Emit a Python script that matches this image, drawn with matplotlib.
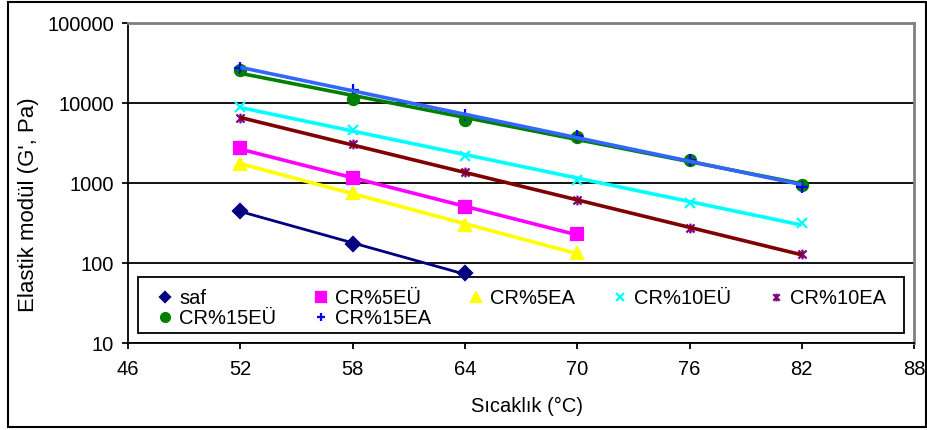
import numpy as np
import matplotlib.pyplot as plt
from matplotlib.path import Path
from matplotlib.patches import Rectangle
from matplotlib.ticker import FixedLocator, FixedFormatter

plt.rcParams['font.family'] = ['Liberation Sans', 'DejaVu Sans']

# veri
sicaklik = [52, 58, 64, 70, 76, 82]
saf = [450, 171, 74]
cr5eu = [2700, 1140, 505, 228]
cr5ea = [1750, 745, 300, 133]
cr10eu = [9000, 4600, 2190, 1090, 567, 319]
cr10ea = [6450, 3050, 1380, 613, 272, 128]
cr15eu = [25800, 11100, 6130, 3800, 1940, 944]
cr15ea = [27000, 14500, 7080, 3870, 1950, 900]

names = ["saf", "CR%5EÜ", "CR%5EA", "CR%10EÜ", "CR%10EA", "CR%15EÜ", "CR%15EA"]
series = [saf, cr5eu, cr5ea, cr10eu, cr10ea, cr15eu, cr15ea]

star = Path([(-1, -1), (1, 1), (-1, 1), (1, -1), (0, -1.2), (0, 1.2)],
            [Path.MOVETO, Path.LINETO, Path.MOVETO, Path.LINETO, Path.MOVETO, Path.LINETO])

marker_list = ["D", "s", "^", "x", star, "o", "+"]
marker_color = ["#000080", "#FF00FF", "#FFFF00", "#00FFFF", "#800080", "#008000", "#0000FF"]
line_color = ["#000080", "#FF00FF", "#FFFF00", "#00FFFF", "#800000", "#008000", "#3366FF"]
msize = [7, 8.5, 9, 7, 7, 8, 8]

fig = plt.figure(figsize=(9.28, 4.30), dpi=100)
ax = fig.add_axes([0.138, 0.2023, 0.847, 0.7442])

handles = []
for i in range(len(series)):
    xs = np.array(sicaklik[:len(series[i])], dtype=float)
    ys = np.array(series[i], dtype=float)
    filled = marker_list[i] in ["D", "s", "^", "o"]
    h, = ax.plot(xs, ys, linestyle="none", marker=marker_list[i], markersize=msize[i],
                 color=marker_color[i], mfc=marker_color[i] if filled else "none",
                 mec=marker_color[i], mew=1.6, zorder=3, label=names[i])
    handles.append(h)
    # ustel egilim cizgisi
    k = np.polyfit(xs, np.log(ys), 1)
    xf = np.linspace(xs[0], xs[-1], 50)
    ax.plot(xf, np.exp(np.polyval(k, xf)), color=line_color[i],
            lw=2.6 if i else 2.0, zorder=4, solid_capstyle="butt")

ax.set_yscale("log")
ax.set_ylim(10, 100000)
ax.set_xlim(46, 88)
ax.xaxis.set_major_locator(FixedLocator([46, 52, 58, 64, 70, 76, 82, 88]))
ax.yaxis.set_major_locator(FixedLocator([10, 100, 1000, 10000, 100000]))
ax.yaxis.set_major_formatter(FixedFormatter(["10", "100", "1000", "10000", "100000"]))
ax.yaxis.set_minor_locator(FixedLocator([]))
ax.grid(axis="y", color="black", lw=1.3)
ax.tick_params(labelsize=14.5, length=4, width=1.3, direction="out", colors="black")
ax.tick_params(axis="x", pad=8)
ax.tick_params(axis="y", pad=6)
for s in ["left", "bottom"]:
    ax.spines[s].set_linewidth(1.3)
for s in ["top", "right"]:
    ax.spines[s].set_color("#808080")
    ax.spines[s].set_linewidth(2)

fig.text(527 / 928, 1 - 406 / 430, "Sıcaklık (°C)", fontsize=14.5, ha="center", va="center")
fig.text(29 / 928, 1 - 205 / 430, "Elastik modül (G', Pa)", fontsize=16,
         rotation=90, ha="center", va="center")

# satir sirasi icin yeniden dizilim
order = [0, 5, 1, 6, 2, 3, 4]
leg = ax.legend(handles=[handles[j] for j in order], ncol=5, loc="lower left",
                bbox_to_anchor=(0.0305, 0.031, 0.940, 0.175), mode="expand",
                borderaxespad=0, fontsize=14.5, handlelength=0.8, handletextpad=0.3,
                labelspacing=0.05, borderpad=0.25, frameon=False, markerscale=0.8)
leg.set_zorder(6)
ax.add_patch(Rectangle((0.0127, 0.031), 0.9746, 0.175, transform=ax.transAxes,
                       facecolor="white", edgecolor="black", lw=1.3, zorder=2))

fig.patches.append(Rectangle((0.009, 0.007), 0.989, 0.988, transform=fig.transFigure,
                             fill=False, edgecolor="black", lw=1.5))

fig.savefig("out.png", dpi=100)
